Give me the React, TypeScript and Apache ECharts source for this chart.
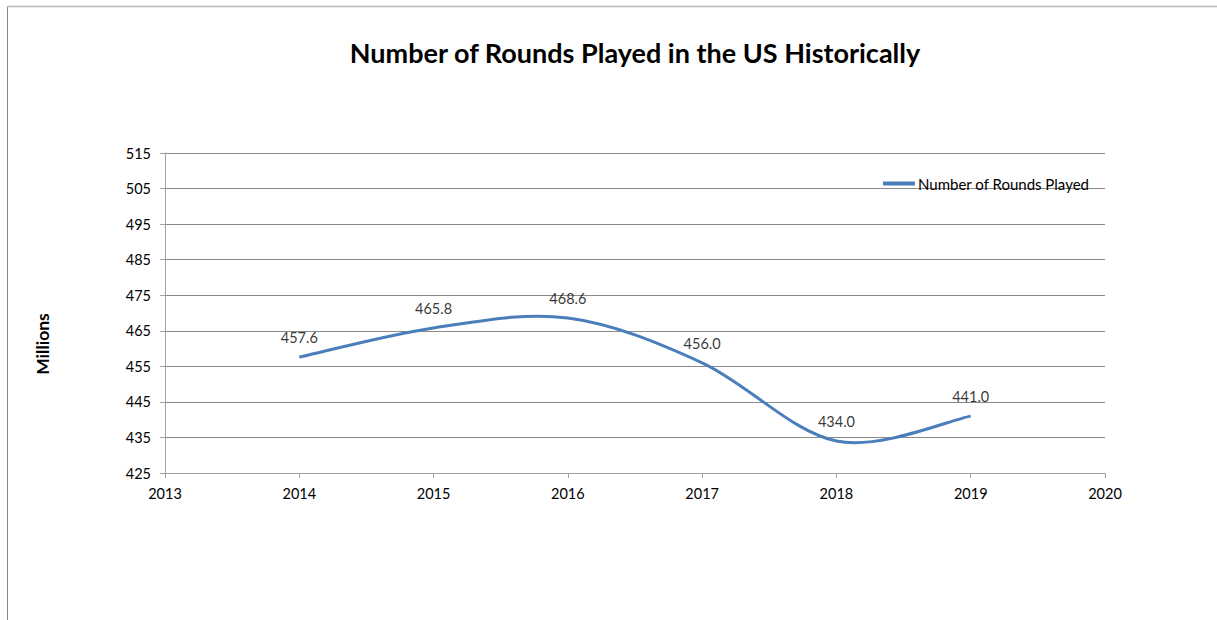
import React, { useEffect, useRef } from "react";
import * as echarts from "echarts";

const years = [2014, 2015, 2016, 2017, 2018, 2019];
const rounds = [457.6, 465.8, 468.6, 456.0, 434.0, 441.0];
const seriesName = "Number of Rounds Played";
const titleText = "Number of Rounds Played in the US Historically";
const yAxisTitle = "Millions";

const FONT = "Lato, 'Open Sans', sans-serif";
const LINE_COLOR = "#4a7ebb";

export default function App() {
  const ref = useRef<HTMLDivElement>(null);
  useEffect(() => {
    if (!ref.current) return;
    const chart = echarts.init(ref.current, undefined, { renderer: "svg" });
    const points = years.map((y, i) => [y, rounds[i]]);
    chart.setOption({
      animation: false,
      backgroundColor: "#ffffff",
      textStyle: { fontFamily: FONT },
      title: {
        text: titleText,
        left: 630,
        top: 34,
        textAlign: "center",
        textStyle: { fontSize: 27, fontWeight: "bold", color: "#000", fontFamily: FONT },
      },
      legend: {
        left: 883,
        top: 176,
        padding: 0,
        icon: "rect",
        itemWidth: 32,
        itemHeight: 4,
        textStyle: { fontSize: 15, color: "#000", fontFamily: FONT, padding: [0, 0, 0, -2] },
        data: [{ name: seriesName, itemStyle: { color: LINE_COLOR } }],
      },
      grid: { left: 165, right: 112, top: 153, bottom: 147 },
      xAxis: {
        type: "value",
        min: 2013,
        max: 2020,
        interval: 1,
        axisLine: { lineStyle: { color: "#a0a0a0", width: 1 } },
        axisTick: { show: true, length: 5, lineStyle: { color: "#a0a0a0" } },
        axisLabel: {
          color: "#000",
          fontSize: 14.5,
          margin: 13,
          fontFamily: FONT,
          formatter: (v: number) => String(v),
        },
        splitLine: { show: false },
      },
      yAxis: {
        type: "value",
        min: 425,
        max: 515,
        interval: 10,
        axisLine: { show: true, lineStyle: { color: "#a0a0a0", width: 1 } },
        axisTick: { show: true, length: 5, lineStyle: { color: "#a0a0a0" } },
        axisLabel: { color: "#000", fontSize: 14.5, margin: 14, fontFamily: FONT },
        splitLine: { show: true, lineStyle: { color: "#8a8a8a", width: 1 } },
      },
      graphic: [
        { type: "line", shape: { x1: 7.5, y1: 7, x2: 7.5, y2: 620 }, style: { stroke: "#888", lineWidth: 1 } },
        { type: "line", shape: { x1: 7, y1: 6.5, x2: 1217, y2: 6.5 }, style: { stroke: "#bbb", lineWidth: 1.5 } },
        {
          type: "text",
          x: 42,
          y: 344,
          rotation: Math.PI / 2,
          style: {
            text: yAxisTitle,
            fontSize: 17.5,
            fontWeight: "bold",
            fill: "#000",
            fontFamily: FONT,
            align: "center",
            verticalAlign: "middle",
          },
        },
      ],
      series: [
        {
          name: seriesName,
          type: "custom",
          itemStyle: { color: LINE_COLOR },
          data: [0],
          renderItem: (_params: any, api: any) => {
            const pts = points.map((p) => api.coord(p));
            const n = pts.length;
            let d = `M${pts[0][0]},${pts[0][1]}`;
            for (let i = 0; i < n - 1; i++) {
              const p0 = pts[Math.max(0, i - 1)];
              const p1 = pts[i];
              const p2 = pts[i + 1];
              const p3 = pts[Math.min(n - 1, i + 2)];
              const c1x = p1[0] + (p2[0] - p0[0]) / 6;
              const c1y = p1[1] + (p2[1] - p0[1]) / 6;
              const c2x = p2[0] - (p3[0] - p1[0]) / 6;
              const c2y = p2[1] - (p3[1] - p1[1]) / 6;
              d += ` C${c1x},${c1y} ${c2x},${c2y} ${p2[0]},${p2[1]}`;
            }
            return {
              type: "path",
              shape: { pathData: d },
              style: { stroke: LINE_COLOR, lineWidth: 3, fill: "none" },
            };
          },
        },
        {
          name: "labels",
          type: "scatter",
          symbol: "circle",
          symbolSize: 2,
          data: points,
          itemStyle: { color: "rgba(0,0,0,0)" },
          label: {
            show: true,
            position: "top",
            distance: 11,
            color: "#000",
            textBorderWidth: 0,
            textBorderColor: "transparent",
            fontSize: 14.5,
            fontFamily: FONT,
            formatter: (p: any) => Number(p.value[1]).toFixed(1),
          },
        },
      ],
    });
    return () => chart.dispose();
  }, []);
  return (
    <div
      ref={ref}
      style={{ position: "absolute", left: 0, top: 0, width: 1217, height: 620 }}
    />
  );
}
